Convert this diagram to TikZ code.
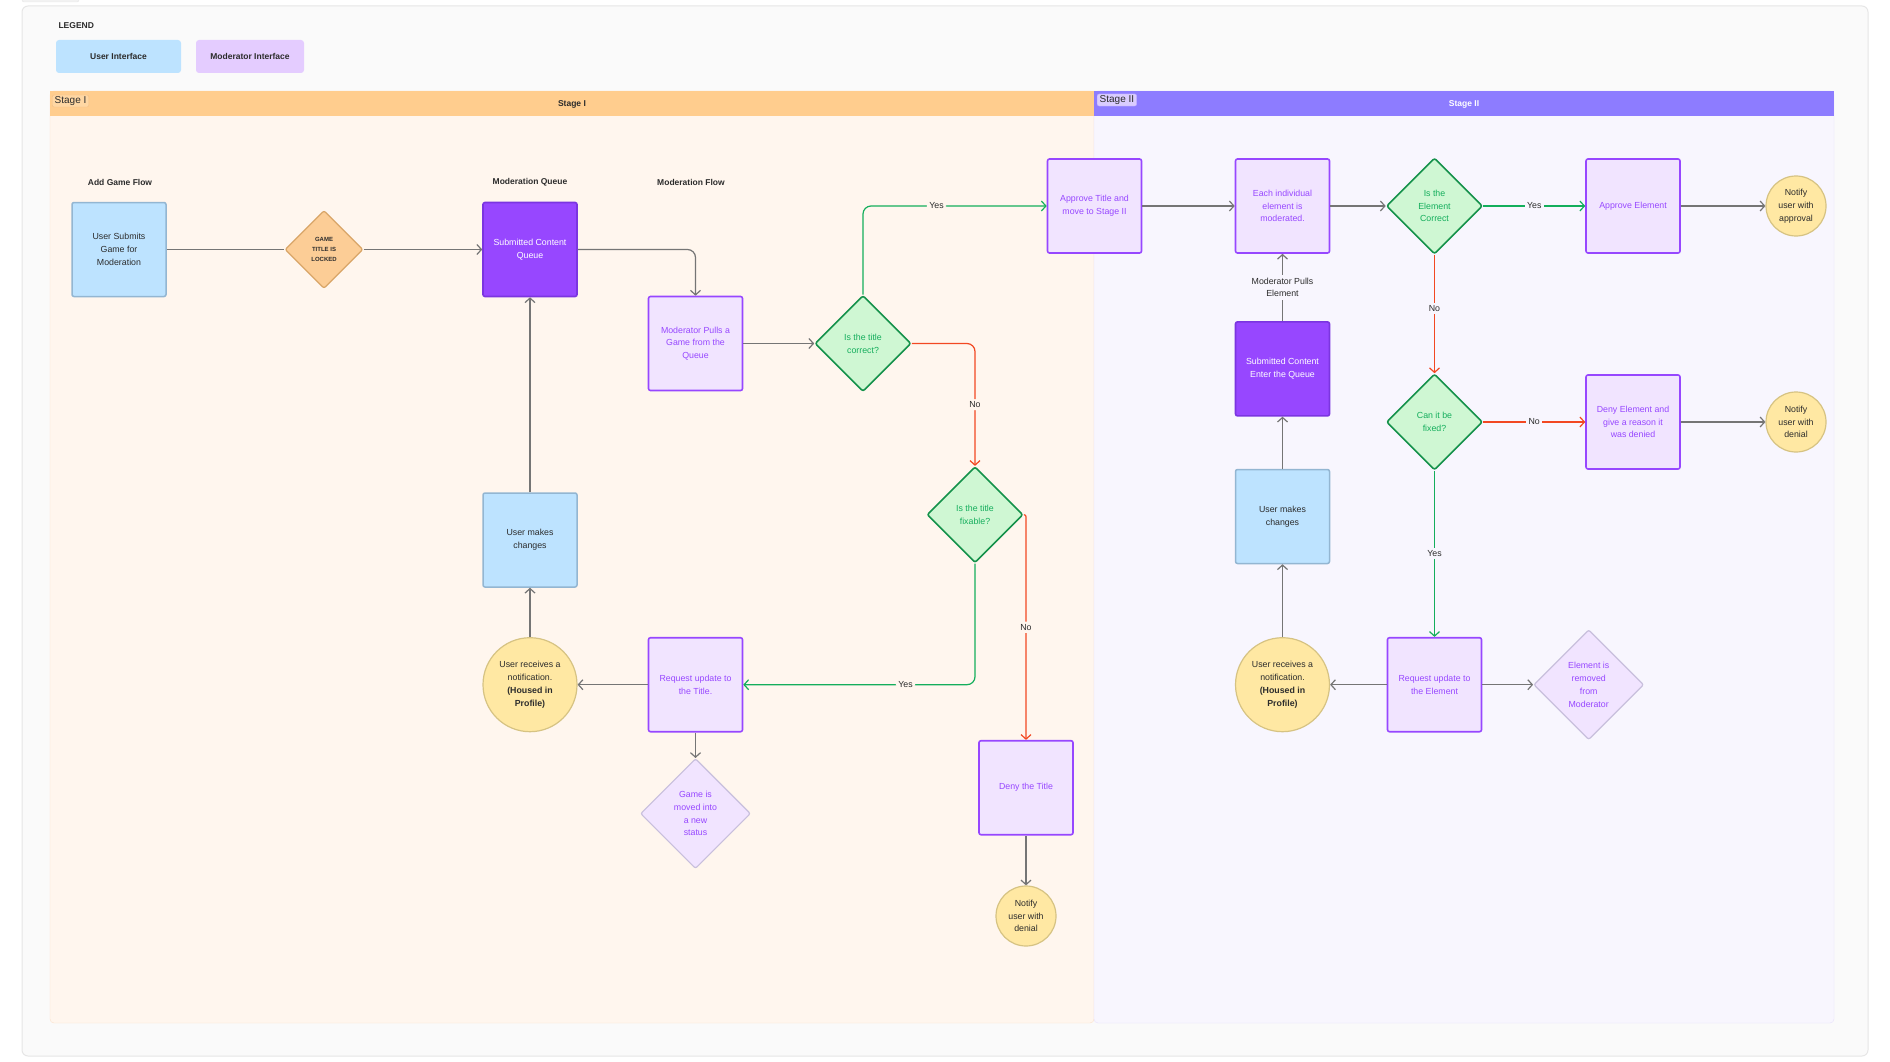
\documentclass[tikz,border=0pt]{standalone}
\usepackage{fontspec}
\setmainfont{Liberation Sans}
\usetikzlibrary{shapes,arrows.meta}

\definecolor{framebg}{HTML}{FAFAFA}
\definecolor{frameline}{HTML}{E6E6E6}
\definecolor{tabfill}{HTML}{F2F2F2}
\definecolor{hdrone}{HTML}{FFCD8E}
\definecolor{panelone}{HTML}{FFF6EE}
\definecolor{panelonel}{HTML}{FBE2CB}
\definecolor{tagone}{HTML}{FFD7A3}
\definecolor{tagonel}{HTML}{F2BE83}
\definecolor{hdrtwo}{HTML}{8D7CFF}
\definecolor{paneltwo}{HTML}{F8F6FE}
\definecolor{paneltwol}{HTML}{E8E1FC}
\definecolor{tagtwo}{HTML}{DACCFF}
\definecolor{tagtwol}{HTML}{C2B0FF}
\definecolor{uifill}{HTML}{BDE3FF}
\definecolor{uiline}{HTML}{93B6D2}
\definecolor{modfill}{HTML}{F1E4FF}
\definecolor{modline}{HTML}{9747FF}
\definecolor{modlegend}{HTML}{E4CCFF}
\definecolor{darkline}{HTML}{7B35E0}
\definecolor{decfill}{HTML}{CFF7D3}
\definecolor{decline}{HTML}{14914A}
\definecolor{dectext}{HTML}{14AE5C}
\definecolor{lockfill}{HTML}{FCCD96}
\definecolor{lockline}{HTML}{D9A567}
\definecolor{notefill}{HTML}{FFE8A3}
\definecolor{noteline}{HTML}{D6C383}
\definecolor{ghostline}{HTML}{C8BFDC}
\definecolor{txt}{HTML}{2C2C2C}
\definecolor{arrowgray}{HTML}{757575}
\definecolor{yesgreen}{HTML}{14AE5C}
\definecolor{nored}{HTML}{F24822}

\begin{document}
\begin{tikzpicture}[x=1pt, y=1pt, node distance=150pt, >={Straight Barb[length=4.5pt,width=10pt]}]
			%define block styles
			\tikzset{
				txtbase/.style={align=center, font=\fontsize{8.8}{12.8}\selectfont},
				userbox/.style={txtbase, rectangle, rounded corners=2pt, minimum width=94pt, minimum height=94pt, draw=uiline, line width=1.5pt, fill=uifill, text=txt},
				modbox/.style={txtbase, rectangle, rounded corners=2pt, minimum width=94pt, minimum height=94pt, draw=modline, line width=1.6pt, fill=modfill, text=modline},
				queuebox/.style={modbox, draw=darkline, fill=modline, text=white},
				decision/.style={txtbase, diamond, aspect=1, minimum width=96pt, minimum height=96pt, inner sep=0pt, rounded corners=2pt, draw=decline, line width=1.6pt, fill=decfill, text=dectext},
				lockbox/.style={decision, minimum width=78pt, minimum height=78pt, draw=lockline, line width=1.2pt, fill=lockfill, text=txt, font=\bfseries\fontsize{6}{9.7}\selectfont},
				ghostbox/.style={decision, minimum width=110pt, minimum height=110pt, draw=ghostline, line width=1.2pt, fill=modfill, text=modline},
				notebox/.style={txtbase, circle, minimum size=94pt, inner sep=0pt, draw=noteline, line width=1.2pt, fill=notefill, text=txt},
				endbox/.style={notebox, minimum size=60pt},
				heading/.style={font=\bfseries\fontsize{8.5}{10}\selectfont, text=txt},
				tag/.style={font=\fontsize{10}{12}\selectfont, text=txt, rounded corners=2pt, inner xsep=2.5pt, inner ysep=1.5pt, anchor=west},
				link/.style={line width=1.2pt, draw=arrowgray},
				arrow/.style={link, ->},
				yesline/.style={arrow, draw=yesgreen},
				noline/.style={arrow, draw=nored},
				lbl/.style={txtbase, fill=panelone, text=txt, inner sep=2.5pt},
				lbltwo/.style={lbl, fill=paneltwo},
			}
			%background, legend and stages
			\useasboundingbox (0,0) rectangle (1890,-1062);
			\filldraw[fill=tabfill, draw=frameline, rounded corners=2pt] (22,4) rectangle (79,-2);
			\filldraw[fill=framebg, draw=frameline, line width=1pt, rounded corners=6pt] (22,-6) rectangle (1868,-1056);
			\filldraw[fill=panelone, draw=panelonel, rounded corners=4pt] (50,-91) rectangle (1094,-1023);
			\filldraw[fill=paneltwo, draw=paneltwol, rounded corners=4pt] (1094,-91) rectangle (1834,-1023);
			\fill[hdrone] (50,-91) rectangle (1094,-116);
			\fill[hdrtwo] (1094,-91) rectangle (1834,-116);
			\node[tag, fill=tagone, draw=tagonel](tagone) at (52,-101){Stage I};
			\node[tag, fill=tagtwo, draw=tagtwol](tagtwo) at (1097,-100){Stage II};
			\node[heading](hdrone) at (572,-104){Stage I};
			\node[heading, text=white](hdrtwo) at (1464,-104){Stage II};
			\node[heading, anchor=west](legend) at (55,-26){LEGEND};
			\node[heading, fill=uifill, rounded corners=3pt, minimum width=125pt, minimum height=33pt](uileg) at (118.5,-56.5){User Interface};
			\node[heading, fill=modlegend, rounded corners=3pt, minimum width=108pt, minimum height=33pt](modleg) at (250,-56.5){Moderator Interface};
			\node[heading](addflow) at (120,-182){Add Game Flow};
			\node[heading](modqueue) at (530,-182){Moderation Queue};
			\node[heading](modflow) at (691,-182){Moderation Flow};
			%define nodes, stage I
			\node[userbox](submit) at (119,-249.5){User Submits\\Game for\\Moderation};
			\node[lockbox, right of=submit, xshift=55pt](lock){GAME\\TITLE IS\\LOCKED};
			\node[queuebox, right of=lock, xshift=56pt](queue){Submitted Content\\Queue};
			\node[modbox, below of=queue, xshift=165.5pt, yshift=56pt](pull){Moderator Pulls a\\Game from the\\Queue};
			\node[decision, right of=pull, xshift=17.5pt](chk){Is the title\\correct?};
			\node[decision, below of=chk, xshift=112pt, yshift=-21.2pt](fixq){Is the title\\fixable?};
			\node[modbox, below of=fixq, xshift=51pt, yshift=-123pt](deny){Deny the Title};
			\node[endbox, below of=deny, yshift=21.7pt](dnote){Notify\\user with\\denial};
			\node[modbox, below of=pull, yshift=-191.2pt](req){Request update to\\the Title.};
			\node[ghostbox, below of=req, yshift=21.1pt](status){Game is\\moved into\\a new\\status};
			\node[notebox, left of=req, xshift=-15.5pt](note){User receives a\\notification.\\\textbf{(Housed in}\\\textbf{Profile)}};
			\node[userbox, above of=note, yshift=-5.3pt](edit){User makes\\changes};
			%define nodes, stage II
			\node[modbox](appr) at (1094.5,-206){Approve Title and\\move to Stage II};
			\node[modbox, right of=appr, xshift=38pt](elem){Each individual\\element is\\moderated.};
			\node[decision, right of=elem, xshift=2pt](echk){Is the\\Element\\Correct};
			\node[modbox, right of=echk, xshift=48.5pt](eappr){Approve Element};
			\node[endbox, right of=eappr, xshift=13pt](anote){Notify\\user with\\approval};
			\node[queuebox, below of=elem, yshift=-12.9pt](equeue){Submitted Content\\Enter the Queue};
			\node[userbox, below of=equeue, yshift=2.4pt](eedit){User makes\\changes};
			\node[notebox, below of=eedit, yshift=-18.2pt](enote){User receives a\\notification.\\\textbf{(Housed in}\\\textbf{Profile)}};
			\node[decision, below of=echk, yshift=-66pt](efix){Can it be\\fixed?};
			\node[modbox, right of=efix, xshift=48.5pt](edeny){Deny Element and\\give a reason it\\was denied};
			\node[endbox, right of=edeny, xshift=13pt](dnotetwo){Notify\\user with\\denial};
			\node[modbox, below of=efix, yshift=-112.7pt](ereq){Request update to\\the Element};
			\node[ghostbox, right of=ereq, xshift=4.2pt](erem){Element is\\removed\\from\\Moderator};
			%define arrows
			\draw[link] (submit) -- (lock);
			\draw[arrow] (lock) -- (queue);
			\draw[arrow, rounded corners=8pt] (queue) -| (pull);
			\draw[arrow] (pull) -- (chk);
			\draw[yesline, rounded corners=8pt] (chk) |- node[lbl, pos=0.7]{Yes} (appr);
			\draw[noline, rounded corners=8pt] (chk) -| node[lbl, pos=0.75]{No} (fixq);
			\draw[yesline, rounded corners=8pt] (fixq) |- node[lbl, pos=0.65]{Yes} (req);
			\draw[noline, rounded corners=2pt] (fixq.east) -| node[lbl, pos=0.75]{No} (deny);
			\draw[arrow] (deny) -- (dnote);
			\draw[arrow] (req) -- (note);
			\draw[arrow] (req) -- (status);
			\draw[arrow] (note) -- (edit);
			\draw[arrow] (edit) -- (queue);
			\draw[arrow] (appr) -- (elem);
			\draw[arrow] (elem) -- (echk);
			\draw[arrow] (equeue) -- node[lbltwo]{Moderator Pulls\\Element} (elem);
			\draw[arrow] (eedit) -- (equeue);
			\draw[arrow] (enote) -- (eedit);
			\draw[arrow] (ereq) -- (enote);
			\draw[arrow] (ereq) -- (erem);
			\draw[yesline] (echk) -- node[lbltwo]{Yes} (eappr);
			\draw[noline] (echk) -- node[lbltwo, pos=0.45]{No} (efix);
			\draw[noline] (efix) -- node[lbltwo]{No} (edeny);
			\draw[yesline] (efix) -- node[lbltwo]{Yes} (ereq);
			\draw[arrow] (eappr) -- (anote);
			\draw[arrow] (edeny) -- (dnotetwo);
		\end{tikzpicture}
\end{document}
